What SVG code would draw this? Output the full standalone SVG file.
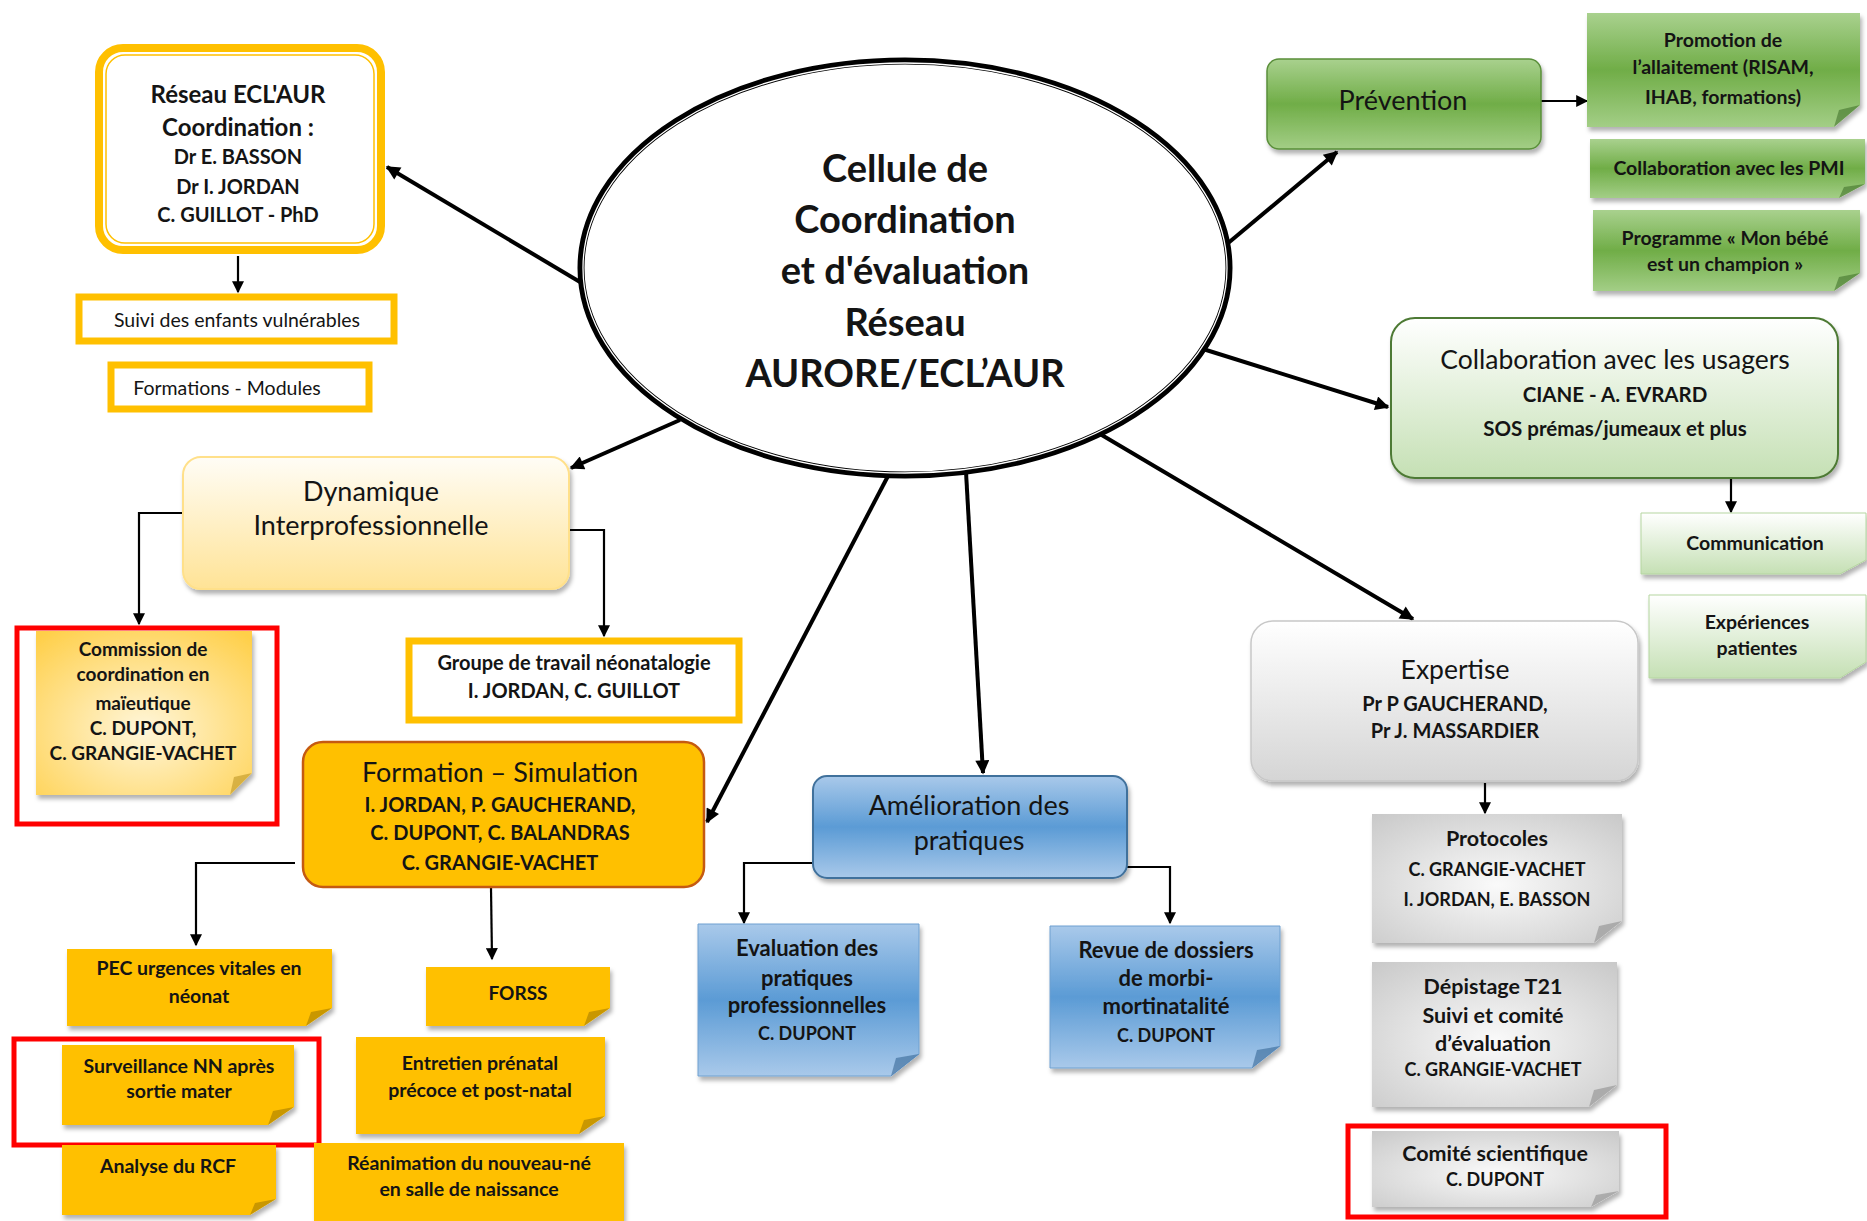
<svg xmlns="http://www.w3.org/2000/svg" width="1867" height="1221" viewBox="0 0 1867 1221">
<defs>
<style>
text{font-family:Lato,"Open Sans","Liberation Sans",sans-serif;fill:#141414;text-anchor:middle}
.b{font-weight:bold}
.conn{fill:none;stroke:#000;stroke-width:4}
.sub{fill:none;stroke:#000;stroke-width:2.2}
.red{fill:none;stroke:#FF0000;stroke-width:5}
.fold{opacity:0.55}
</style>
<filter id="sh" x="-10%" y="-10%" width="125%" height="130%"><feDropShadow dx="2" dy="4" stdDeviation="2" flood-color="#000" flood-opacity="0.3"/></filter>
<linearGradient id="gDyn" x1="0" y1="0" x2="0" y2="1"><stop offset="0" stop-color="#FFFDF6"/><stop offset="1" stop-color="#FFE396"/></linearGradient>
<radialGradient id="gComm" cx="0.5" cy="0.6" r="0.75"><stop offset="0" stop-color="#FFF6DA"/><stop offset="1" stop-color="#FFCF48"/></radialGradient>
<linearGradient id="gBlue" x1="0" y1="0" x2="0" y2="1"><stop offset="0" stop-color="#A9C9EA"/><stop offset="0.5" stop-color="#5B9BD5"/><stop offset="1" stop-color="#A9C9EA"/></linearGradient>
<linearGradient id="gGreen" x1="0" y1="0" x2="0" y2="1"><stop offset="0" stop-color="#A9D18E"/><stop offset="0.5" stop-color="#70AD47"/><stop offset="1" stop-color="#A3CE86"/></linearGradient>
<linearGradient id="gLG" x1="0" y1="0" x2="0" y2="1"><stop offset="0" stop-color="#FFFFFF"/><stop offset="1" stop-color="#C5E0B4"/></linearGradient>
<linearGradient id="gGray" x1="0" y1="0" x2="0" y2="1"><stop offset="0" stop-color="#FFFFFF"/><stop offset="1" stop-color="#D5D5D5"/></linearGradient>
<radialGradient id="gGraySt" cx="0.5" cy="0.55" r="0.75"><stop offset="0" stop-color="#FAFAFA"/><stop offset="1" stop-color="#C8C8C8"/></radialGradient>
<marker id="ah" viewBox="0 0 10 10" refX="9" refY="5" markerWidth="16" markerHeight="14" markerUnits="userSpaceOnUse" orient="auto"><path d="M0,0 L10,5 L0,10 z" fill="#000"/></marker>
<marker id="ahs" viewBox="0 0 10 10" refX="9" refY="5" markerWidth="13" markerHeight="12" markerUnits="userSpaceOnUse" orient="auto"><path d="M0,0 L10,5 L0,10 z" fill="#000"/></marker>
</defs>
<rect width="1867" height="1221" fill="#fff"/>

<g id="connectors">
<path class="conn" d="M580,282 L387,167" marker-end="url(#ah)"/>
<path class="conn" d="M680,420 L571,468" marker-end="url(#ah)"/>
<path class="conn" d="M888,476 L707,822" marker-end="url(#ah)"/>
<path class="conn" d="M966,472 L983,773" marker-end="url(#ah)"/>
<path class="conn" d="M1100,434 L1413,619" marker-end="url(#ah)"/>
<path class="conn" d="M1203,349 L1388,407" marker-end="url(#ah)"/>
<path class="conn" d="M1227,244 L1337,152" marker-end="url(#ah)"/>
<path class="sub" d="M1541,101 L1587,101" marker-end="url(#ahs)"/>
<path class="sub" d="M1731,479 L1731,512" marker-end="url(#ahs)"/>
<path class="sub" d="M1485,783 L1485,813" marker-end="url(#ahs)"/>
<path class="sub" d="M238,256 L238,292" marker-end="url(#ahs)"/>
<path class="sub" d="M187,513 L139,513 L139,624" marker-end="url(#ahs)"/>
<path class="sub" d="M569,530 L604,530 L604,636" marker-end="url(#ahs)"/>
<path class="sub" d="M295,863 L196,863 L196,945" marker-end="url(#ahs)"/>
<path class="sub" d="M491,888 L492,959" marker-end="url(#ahs)"/>
<path class="sub" d="M814,863 L744,863 L744,923" marker-end="url(#ahs)"/>
<path class="sub" d="M1126,867 L1170,867 L1170,923" marker-end="url(#ahs)"/>
</g>

<g id="center">
<ellipse cx="905" cy="268" rx="324" ry="207" fill="#fff" stroke="#000" stroke-width="7"/>
<ellipse cx="905" cy="268" rx="322" ry="205" fill="none" stroke="#fff" stroke-width="1.3"/>
<text class="b" font-size="38"><tspan x="905" y="182">Cellule de</tspan><tspan x="905" y="233">Coordination</tspan><tspan x="905" y="284">et d'évaluation</tspan><tspan x="905" y="336">Réseau</tspan><tspan x="905" y="387">AURORE/ECL’AUR</tspan></text>
</g>

<g id="reseau">
<rect x="99" y="48" width="282" height="202" rx="24" fill="#fff" stroke="#FFC000" stroke-width="8"/>
<rect x="106" y="55" width="268" height="188" rx="19" fill="none" stroke="#FFC000" stroke-width="1.5"/>
<text class="b" font-size="24"><tspan x="238" y="103">Réseau ECL'AUR</tspan><tspan x="238" y="136">Coordination :</tspan></text>
<text class="b" font-size="20"><tspan x="238" y="164">Dr E. BASSON</tspan><tspan x="238" y="194">Dr I. JORDAN</tspan><tspan x="238" y="222">C. GUILLOT - PhD</tspan></text>
</g>

<g id="suivi">
<rect x="79" y="297" width="315" height="44" fill="#fff" stroke="#FFC000" stroke-width="7"/>
<text font-size="19.5" x="237" y="327">Suivi des enfants vulnérables</text>
</g>

<g id="formations-modules">
<rect x="111" y="365" width="258" height="44" fill="#fff" stroke="#FFC000" stroke-width="7"/>
<text font-size="19.5" x="227" y="395">Formations - Modules</text>
</g>

<g id="dynamique">
<rect x="183" y="457" width="386" height="132" rx="18" fill="url(#gDyn)" stroke="#FFE08A" stroke-width="2" filter="url(#sh)"/>
<text font-size="27"><tspan x="371" y="501">Dynamique</tspan><tspan x="371" y="535">Interprofessionnelle</tspan></text>
</g>

<g id="commission">
<path d="M36,631 H252 V773 L230,795 H36 Z" fill="url(#gComm)" filter="url(#sh)"/>
<path class="fold" d="M252,773 L230,795 L234,777 Z" fill="#B8901E"/>
<text class="b" font-size="19"><tspan x="143" y="656">Commission de</tspan><tspan x="143" y="681">coordination en</tspan><tspan x="143" y="710">maïeutique</tspan><tspan x="143" y="735">C. DUPONT,</tspan><tspan x="143" y="760">C. GRANGIE-VACHET</tspan></text>
<rect class="red" x="17" y="628" width="260" height="196"/>
</g>

<g id="groupe">
<rect x="409" y="641" width="330" height="79" fill="#fff" stroke="#FFC000" stroke-width="7"/>
<text class="b" font-size="20"><tspan x="574" y="670">Groupe de travail néonatalogie</tspan><tspan x="574" y="698">I. JORDAN, C. GUILLOT</tspan></text>
</g>

<g id="formation-simulation">
<rect x="303" y="742" width="401" height="145" rx="20" fill="#FFC000" stroke="#C55A11" stroke-width="2.5"/>
<text font-size="27" x="500" y="782">Formation – Simulation</text>
<text class="b" font-size="20"><tspan x="500" y="812">I. JORDAN, P. GAUCHERAND,</tspan><tspan x="500" y="840">C. DUPONT, C. BALANDRAS</tspan><tspan x="500" y="870">C. GRANGIE-VACHET</tspan></text>
</g>

<g id="pec">
<path d="M67,949 H332 V1008 L306,1026 H67 Z" fill="#FFC000" filter="url(#sh)"/>
<path class="fold" d="M332,1008 L306,1026 L311,1012 Z" fill="#9C7400"/>
<text class="b" font-size="19.5"><tspan x="199" y="975">PEC urgences vitales en</tspan><tspan x="199" y="1003">néonat</tspan></text>
</g>

<g id="forss">
<path d="M426,967 H610 V1008 L584,1026 H426 Z" fill="#FFC000" filter="url(#sh)"/>
<path class="fold" d="M610,1008 L584,1026 L589,1012 Z" fill="#9C7400"/>
<text class="b" font-size="19" x="518" y="1000">FORSS</text>
</g>

<g id="surveillance">
<path d="M62,1045 H294 V1107 L268,1125 H62 Z" fill="#FFC000" filter="url(#sh)"/>
<path class="fold" d="M294,1107 L268,1125 L273,1111 Z" fill="#9C7400"/>
<text class="b" font-size="19.5"><tspan x="179" y="1073">Surveillance NN après</tspan><tspan x="179" y="1098">sortie mater</tspan></text>
<rect class="red" x="14" y="1039" width="305" height="106"/>
</g>

<g id="entretien">
<path d="M356,1037 H605 V1116 L579,1134 H356 Z" fill="#FFC000" filter="url(#sh)"/>
<path class="fold" d="M605,1116 L579,1134 L584,1120 Z" fill="#9C7400"/>
<text class="b" font-size="19.5"><tspan x="480" y="1070">Entretien prénatal</tspan><tspan x="480" y="1097">précoce et post-natal</tspan></text>
</g>

<g id="analyse">
<path d="M62,1145 H276 V1199 L250,1215 H62 Z" fill="#FFC000" filter="url(#sh)"/>
<path class="fold" d="M276,1199 L250,1215 L255,1203 Z" fill="#9C7400"/>
<text class="b" font-size="19.5" x="168" y="1173">Analyse du RCF</text>
</g>

<g id="reanimation">
<path d="M314,1143 H624 V1221 H314 Z" fill="#FFC000" filter="url(#sh)"/>
<text class="b" font-size="19.5"><tspan x="469" y="1170">Réanimation du nouveau-né</tspan><tspan x="469" y="1196">en salle de naissance</tspan></text>
</g>

<g id="amelioration">
<rect x="813" y="776" width="314" height="102" rx="14" fill="url(#gBlue)" stroke="#41719C" stroke-width="2" filter="url(#sh)"/>
<text font-size="27"><tspan x="969" y="815">Amélioration des</tspan><tspan x="969" y="850">pratiques</tspan></text>
</g>

<g id="evaluation">
<path d="M698,924 H919 V1054 L891,1076 H698 Z" fill="url(#gBlue)" stroke="#6FA0D0" stroke-width="1" filter="url(#sh)"/>
<path class="fold" d="M919,1054 L891,1076 L896,1058 Z" fill="#2E5F8E"/>
<text class="b" font-size="22"><tspan x="807" y="956">Evaluation des</tspan><tspan x="807" y="986">pratiques</tspan><tspan x="807" y="1013">professionnelles</tspan></text>
<text class="b" font-size="18" x="807" y="1040">C. DUPONT</text>
</g>

<g id="revue">
<path d="M1050,926 H1280 V1046 L1252,1068 H1050 Z" fill="url(#gBlue)" stroke="#6FA0D0" stroke-width="1" filter="url(#sh)"/>
<path class="fold" d="M1280,1046 L1252,1068 L1257,1050 Z" fill="#2E5F8E"/>
<text class="b" font-size="22"><tspan x="1166" y="958">Revue de dossiers</tspan><tspan x="1166" y="986">de morbi-</tspan><tspan x="1166" y="1014">mortinatalité</tspan></text>
<text class="b" font-size="18" x="1166" y="1042">C. DUPONT</text>
</g>

<g id="prevention">
<rect x="1267" y="59" width="274" height="90" rx="12" fill="url(#gGreen)" stroke="#5A8F3A" stroke-width="1.5" filter="url(#sh)"/>
<text font-size="27" x="1403" y="110">Prévention</text>
</g>

<g id="promotion">
<path d="M1587,13 H1860 V105 L1834,127 H1587 Z" fill="url(#gGreen)" filter="url(#sh)"/>
<path class="fold" d="M1860,105 L1834,127 L1839,110 Z" fill="#3B6B24"/>
<text class="b" font-size="19.5"><tspan x="1723" y="47">Promotion de</tspan><tspan x="1723" y="74">l’allaitement (RISAM,</tspan><tspan x="1723" y="104">IHAB, formations)</tspan></text>
</g>

<g id="pmi">
<path d="M1590,139 H1865 V184 L1839,198 H1590 Z" fill="url(#gGreen)" filter="url(#sh)"/>
<path class="fold" d="M1865,184 L1839,198 L1844,187 Z" fill="#3B6B24"/>
<text class="b" font-size="19.5" x="1729" y="175">Collaboration avec les PMI</text>
</g>

<g id="programme">
<path d="M1593,210 H1860 V273 L1834,291 H1593 Z" fill="url(#gGreen)" filter="url(#sh)"/>
<path class="fold" d="M1860,273 L1834,291 L1839,277 Z" fill="#3B6B24"/>
<text class="b" font-size="19.5"><tspan x="1725" y="245">Programme « Mon bébé</tspan><tspan x="1725" y="271">est un champion »</tspan></text>
</g>

<g id="usagers">
<rect x="1391" y="318" width="447" height="160" rx="24" fill="url(#gLG)" stroke="#4E7A34" stroke-width="2" filter="url(#sh)"/>
<text font-size="26.5" x="1615" y="369">Collaboration avec les usagers</text>
<text class="b" font-size="20.5"><tspan x="1615" y="402">CIANE - A. EVRARD</tspan><tspan x="1615" y="436">SOS prémas/jumeaux et plus</tspan></text>
</g>

<g id="communication">
<path d="M1641,513 H1866 V560 L1840,574 H1641 Z" fill="url(#gLG)" stroke="#B5D6A0" stroke-width="1" filter="url(#sh)"/>
<text class="b" font-size="19.5" x="1755" y="550">Communication</text>
</g>

<g id="experiences">
<path d="M1649,595 H1866 V662 L1840,678 H1649 Z" fill="url(#gLG)" stroke="#B5D6A0" stroke-width="1" filter="url(#sh)"/>
<text class="b" font-size="19.5"><tspan x="1757" y="629">Expériences</tspan><tspan x="1757" y="655">patientes</tspan></text>
</g>

<g id="expertise">
<rect x="1251" y="621" width="387" height="160" rx="22" fill="url(#gGray)" stroke="#C8C8C8" stroke-width="1.5" filter="url(#sh)"/>
<text font-size="26.5" x="1455" y="679">Expertise</text>
<text class="b" font-size="20"><tspan x="1455" y="711">Pr P GAUCHERAND,</tspan><tspan x="1455" y="738">Pr J. MASSARDIER</tspan></text>
</g>

<g id="protocoles">
<path d="M1372,814 H1622 V921 L1594,943 H1372 Z" fill="url(#gGraySt)" filter="url(#sh)"/>
<path class="fold" d="M1622,921 L1594,943 L1599,926 Z" fill="#888"/>
<text class="b" font-size="21.5" x="1497" y="846">Protocoles</text>
<text class="b" font-size="18"><tspan x="1497" y="876">C. GRANGIE-VACHET</tspan><tspan x="1497" y="906">I. JORDAN, E. BASSON</tspan></text>
</g>

<g id="depistage">
<path d="M1372,962 H1617 V1085 L1589,1107 H1372 Z" fill="url(#gGraySt)" filter="url(#sh)"/>
<path class="fold" d="M1617,1085 L1589,1107 L1594,1090 Z" fill="#888"/>
<text class="b" font-size="21.5"><tspan x="1493" y="994">Dépistage T21</tspan><tspan x="1493" y="1023">Suivi et comité</tspan><tspan x="1493" y="1051">d’évaluation</tspan></text>
<text class="b" font-size="18" x="1493" y="1076">C. GRANGIE-VACHET</text>
</g>

<g id="comite">
<path d="M1372,1131 H1619 V1191 L1591,1207 H1372 Z" fill="url(#gGraySt)" filter="url(#sh)"/>
<path class="fold" d="M1619,1191 L1591,1207 L1596,1195 Z" fill="#888"/>
<text class="b" font-size="21.5" x="1495" y="1161">Comité scientifique</text>
<text class="b" font-size="18" x="1495" y="1186">C. DUPONT</text>
<rect class="red" x="1348" y="1126" width="318" height="91"/>
</g>
</svg>
